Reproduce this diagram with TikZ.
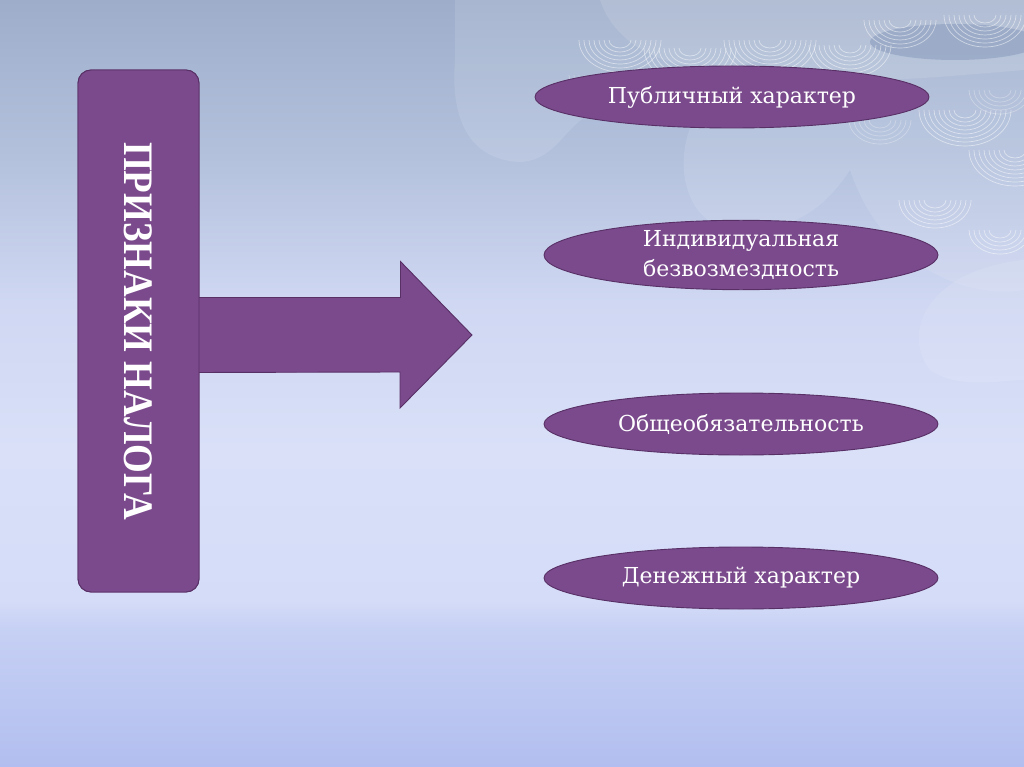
\documentclass[tikz,border=0pt]{standalone}
\usepackage{fontspec}
\setmainfont{DejaVu Serif}
\newfontfamily\titlefont{Liberation Serif}
\usetikzlibrary{shapes.geometric}
\definecolor{cA}{RGB}{158,174,202}
\definecolor{cB}{RGB}{178,192,220}
\definecolor{cC}{RGB}{207,215,242}
\definecolor{cD}{RGB}{217,224,248}
\definecolor{cE}{RGB}{213,220,248}
\definecolor{cF}{RGB}{198,208,244}
\definecolor{cG}{RGB}{178,190,239}
\definecolor{purp}{RGB}{122,74,140}
\definecolor{purpd}{RGB}{88,48,102}
\definecolor{darkoval}{RGB}{140,158,190}
\pgfdeclareverticalshading{bgshade}{100bp}{color(0bp)=(cG); color(25bp)=(cG); color(33.9bp)=(cF); color(35.9bp)=(cE); color(45.7bp)=(cD); color(55.4bp)=(cC); color(65.2bp)=(cB); color(75bp)=(cA); color(100bp)=(cA)}
\tikzset{
  feature/.style={ellipse, draw=purpd, line width=0.9pt, fill=purp, text=white,
    minimum width=394pt, minimum height=62pt, inner sep=0pt, align=center,
    font=\fontsize{22}{30}\selectfont},
  titlebox/.style={draw=purpd, line width=0.9pt, fill=purp, rounded corners=13pt,
    minimum width=121pt, minimum height=522pt, inner sep=0pt},
  contour/.style={white, opacity=0.5, line width=0.7pt},
  blob/.style={white, opacity=0.11}
}
\begin{document}
\begin{tikzpicture}[x=1pt,y=-1pt]
\useasboundingbox (0,0) rectangle (1024,767);
\shade[shading=bgshade] (0,0) rectangle (1024,767);
% decorative clouds top right
\fill[blob] (455,0) -- (455,60) .. controls (450,120) and (470,160) .. (520,162) .. controls (560,160) and (565,120) .. (600,110) -- (700,110) .. controls (670,150) and (680,230) .. (740,230) .. controls (800,232) and (830,200) .. (850,170) .. controls (880,260) and (960,300) .. (1024,290) -- (1024,0) -- cycle;
\fill[white, opacity=0.1] (1024,260) .. controls (930,270) and (900,330) .. (930,370) .. controls (960,390) and (1000,380) .. (1024,380) -- cycle;
\fill[blob] (600,0) .. controls (620,60) and (700,80) .. (760,60) .. controls (820,90) and (900,80) .. (1024,70) -- (1024,0) -- cycle;
\fill[darkoval, opacity=0.6] (955,42) ellipse (85 and 18);
\foreach \cx/\cy/\n in {620/40/7, 690/48/8, 770/40/8, 850/45/7, 900/20/6, 985/15/7, 965/110/8, 1015/150/8, 935/200/6, 1000/230/5}{
  \foreach \k in {1,...,\n}{
    \draw[contour] ({\cx-5*\k-6},\cy) arc[start angle=180, end angle=0, x radius={5*\k+6}, y radius={4*\k+4}];
  }
}
\foreach \cx/\cy in {600/75, 660/100, 1000/90, 880/120}{
  \foreach \k in {1,...,5}{
    \draw[contour, opacity=0.3] ({\cx-5*\k-6},\cy) arc[start angle=180, end angle=0, x radius={5*\k+6}, y radius={4*\k+4}];
  }
}
% title box and arrow
\node[titlebox] (title) at (138.5,331) {};
\coordinate (tip) at (472,335);
\coordinate (base) at (title.east |- tip);
\fill[purp, draw=purpd, line width=0.9pt] ([shift={(-8,-37.5)}]base) -- ++(209,0) -- ++(0,-36) -- (tip) -- ++(-72,73) -- ++(0,-36) -- ([shift={(-8,37.5)}]base) -- cycle;
\node[titlebox] (titlefront) at (title.center) {};
\node[text=white, rotate=-90, font=\titlefont\bfseries\fontsize{42}{44}\selectfont] (titletext) at (title.center) {\scalebox{0.88}[1]{ПРИЗНАКИ НАЛОГА}};
% features
\node[feature] (f1) at (732,97) {Публичный характер};
\node[feature] (f2) at (741,255) {Индивидуальная\\безвозмездность};
\node[feature] (f3) at (741,424) {Общеобязательность};
\node[feature] (f4) at (741,578) {Денежный характер};
\end{tikzpicture}
\end{document}
